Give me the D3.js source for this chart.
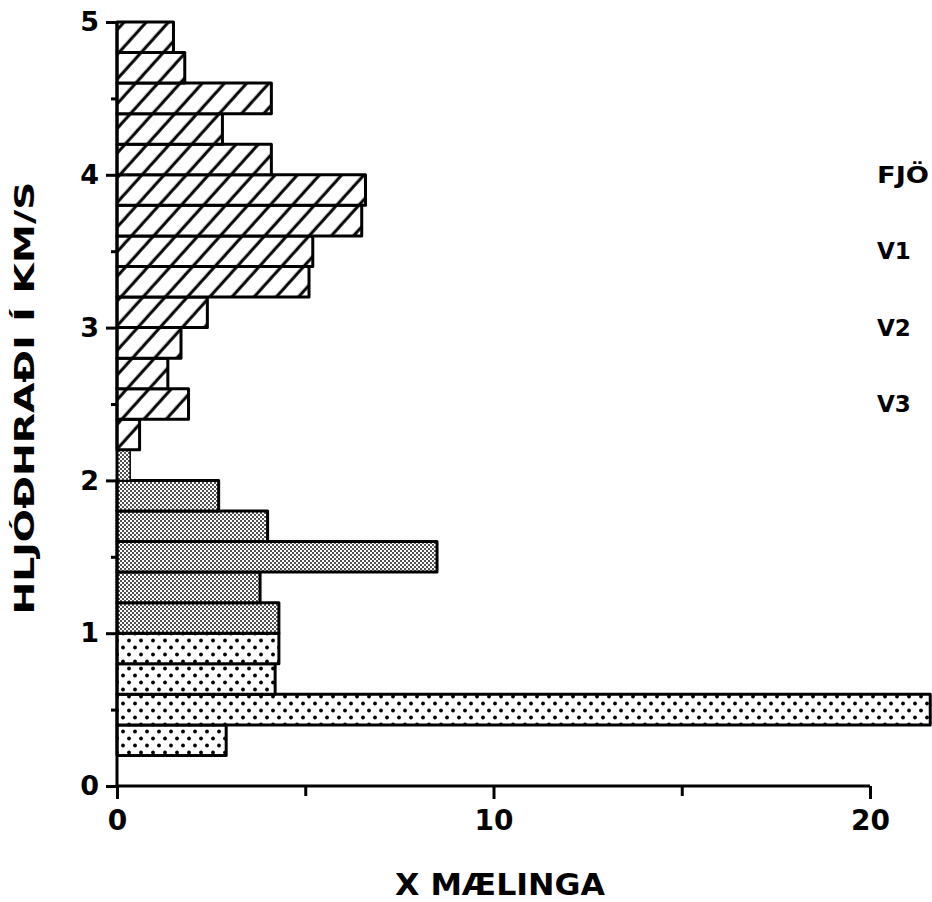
<!DOCTYPE html>
<html>
<head>
<meta charset="utf-8">
<script src="https://cdn.jsdelivr.net/npm/d3@7"></script>
<style>
  html, body { margin: 0; padding: 0; background: #fff; }
  svg { display: block; }
  text { font-family: "DejaVu Sans", sans-serif; font-weight: bold; fill: #000; }
</style>
</head>
<body>
<svg id="chart" width="932" height="902"></svg>
<script>
// Velocity bins (km/s, lower edge, 0.2 wide) and share of measurements (%)
const binWidth = 0.2;
const v1Bins = [0.2, 0.4, 0.6, 0.8];
const v1Pct  = [2.9, 21.6, 4.2, 4.3];
const v2Bins = [1.0, 1.2, 1.4, 1.6, 1.8, 2.0];
const v2Pct  = [4.3, 3.8, 8.5, 4.0, 2.7, 0.35];
const v3Bins = [2.2, 2.4, 2.6, 2.8, 3.0, 3.2, 3.4, 3.6, 3.8, 4.0, 4.2, 4.4, 4.6, 4.8];
const v3Pct  = [0.6, 1.9, 1.35, 1.7, 2.4, 5.1, 5.2, 6.5, 6.6, 4.1, 2.8, 4.1, 1.8, 1.5];

const seriesNames = ["V1", "V2", "V3"];
const legendTitle = "FJÖ";

const yTicks = [0, 1, 2, 3, 4, 5];
const yMinorTicks = [0.5, 1.5, 2.5, 3.5, 4.5];
const xTicks = [0, 10, 20];
const xMinorTicks = [5, 15];

const xTitle = "X MÆLINGA";
const yTitle = "HLJÓÐHRAÐI Í KM/S";

const svg = d3.select("#chart");

const x = d3.scaleLinear().domain([0, 20]).range([117, 870]);
const y = d3.scaleLinear().domain([0, 5]).range([786, 22]);

// fill patterns
const defs = svg.append("defs");

const hatch = defs.append("pattern")
  .attr("id", "hatch")
  .attr("patternUnits", "userSpaceOnUse")
  .attr("width", 16.5).attr("height", 16.5)
  .attr("patternTransform", "rotate(42)");
hatch.append("rect").attr("width", 16.5).attr("height", 16.5).attr("fill", "#fff");
hatch.append("line")
  .attr("x1", 8).attr("y1", -2).attr("x2", 8).attr("y2", 19)
  .attr("stroke", "#000").attr("stroke-width", 3);

const fine = defs.append("pattern")
  .attr("id", "fine")
  .attr("patternUnits", "userSpaceOnUse")
  .attr("width", 4).attr("height", 4);
fine.append("rect").attr("width", 4).attr("height", 4).attr("fill", "#fff");
fine.append("circle").attr("cx", 1).attr("cy", 1).attr("r", 0.9).attr("fill", "#000");
fine.append("circle").attr("cx", 3).attr("cy", 3).attr("r", 0.9).attr("fill", "#000");

const coarse = defs.append("pattern")
  .attr("id", "coarse")
  .attr("patternUnits", "userSpaceOnUse")
  .attr("width", 12).attr("height", 14);
coarse.append("rect").attr("width", 12).attr("height", 14).attr("fill", "#fff");
coarse.append("circle").attr("cx", 3).attr("cy", 3.5).attr("r", 1.9).attr("fill", "#000");
coarse.append("circle").attr("cx", 9).attr("cy", 10.5).attr("r", 1.9).attr("fill", "#000");

const series = [
  { name: seriesNames[0], bins: v1Bins, pct: v1Pct, fill: "url(#coarse)" },
  { name: seriesNames[1], bins: v2Bins, pct: v2Pct, fill: "url(#fine)" },
  { name: seriesNames[2], bins: v3Bins, pct: v3Pct, fill: "url(#hatch)" }
];

// bars
series.forEach(s => {
  const rows = s.bins.map((b, i) => ({ lo: b, hi: b + binWidth, v: s.pct[i] }));
  svg.append("g")
    .selectAll("rect")
    .data(rows)
    .join("rect")
    .attr("x", x(0))
    .attr("y", d => y(d.hi))
    .attr("width", d => x(d.v) - x(0))
    .attr("height", d => y(d.lo) - y(d.hi))
    .attr("fill", s.fill)
    .attr("stroke", "#000")
    .attr("stroke-width", d => (x(d.v) - x(0) < 20 ? 1.5 : 3))
    .attr("stroke-linejoin", "round");
});

// axes
const yAxis = d3.axisLeft(y).tickValues(yTicks).tickSize(11).tickPadding(7).tickFormat(d3.format("d"));
const yMinor = d3.axisLeft(y).tickValues(yMinorTicks).tickSize(6).tickFormat("");
const xAxis = d3.axisBottom(x).tickValues(xTicks).tickSize(13).tickPadding(11).tickFormat(d3.format("d"));
const xMinor = d3.axisBottom(x).tickValues(xMinorTicks).tickSize(10).tickFormat("");

function styleAxis(g) {
  g.select(".domain").attr("stroke", "#000").attr("stroke-width", 3);
  g.selectAll(".tick line").attr("stroke", "#000").attr("stroke-width", 3);
}

const gy = svg.append("g").attr("transform", `translate(${x(0)},0)`).call(yAxis).call(styleAxis);
gy.select(".domain").attr("d", `M0,${y(5)}V${y(0) + 1.5}`);
gy.selectAll(".tick text").attr("font-size", 27).attr("font-family", "DejaVu Sans").attr("font-weight", "bold").attr("fill", "#000");
svg.append("g").attr("transform", `translate(${x(0)},0)`).call(yMinor).call(styleAxis)
  .select(".domain").remove();

const gx = svg.append("g").attr("transform", `translate(0,${y(0)})`).call(xAxis).call(styleAxis);
gx.select(".domain").attr("d", `M${x(0) - 1.5},0H${x(20)}`);
gx.selectAll(".tick text").attr("font-size", 28).attr("font-family", "DejaVu Sans").attr("font-weight", "bold").attr("fill", "#000");
svg.append("g").attr("transform", `translate(0,${y(0)})`).call(xMinor).call(styleAxis)
  .select(".domain").remove();

// axis titles
svg.append("text")
  .attr("x", 500).attr("y", 895)
  .attr("text-anchor", "middle")
  .attr("font-size", 31)
  .attr("textLength", 210).attr("lengthAdjust", "spacingAndGlyphs")
  .text(xTitle);

svg.append("text")
  .attr("transform", "translate(34,398) rotate(-90)")
  .attr("text-anchor", "middle")
  .attr("font-size", 27)
  .attr("textLength", 433).attr("lengthAdjust", "spacingAndGlyphs")
  .text(yTitle);

// legend labels
const legendY = [183, 259, 336, 412];
svg.append("text").attr("x", 877).attr("y", legendY[0]).attr("font-size", 23)
  .attr("textLength", 52).attr("lengthAdjust", "spacingAndGlyphs")
  .text(legendTitle);
svg.append("g").selectAll("text")
  .data(seriesNames)
  .join("text")
  .attr("x", 877)
  .attr("y", (d, i) => legendY[i + 1])
  .attr("font-size", 23)
  .text(d => d);
</script>
</body>
</html>
